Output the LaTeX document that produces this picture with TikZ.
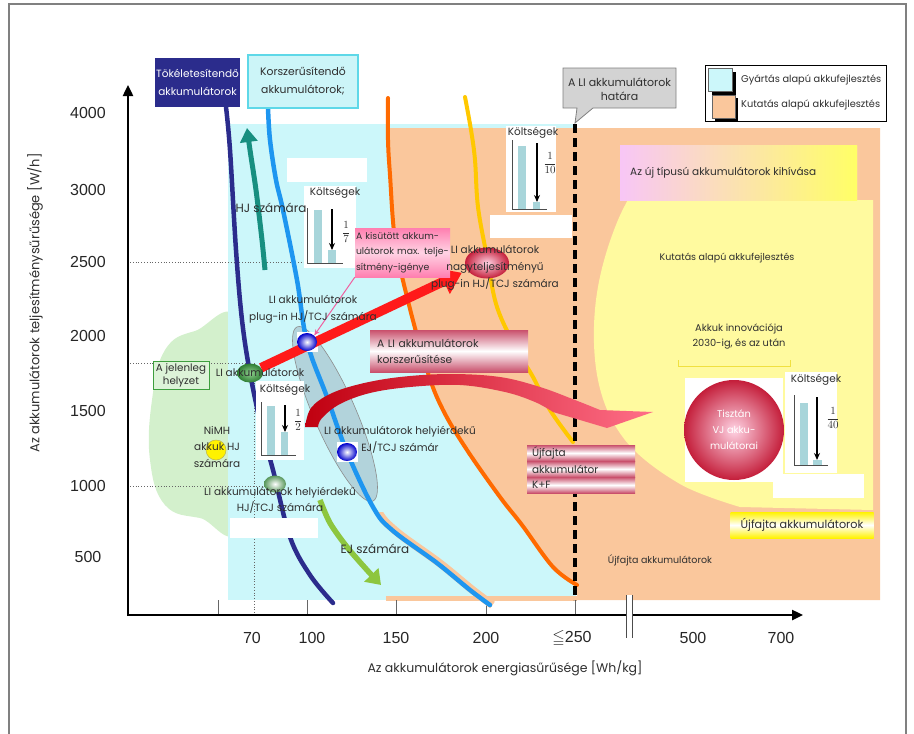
\documentclass[tikz,border=0pt]{standalone}
\usepackage{amssymb}
\usepackage{fontspec}
\setmainfont{Poppins}
\newfontfamily\arialf{Liberation Sans}
\usetikzlibrary{arrows.meta,shapes.geometric,shadings}
\definecolor{cyanbg}{HTML}{CCF7FA}
\definecolor{peach}{HTML}{FAC79C}
\definecolor{ylw}{HTML}{FFFA9F}
\definecolor{navy}{HTML}{2B2C8C}
\definecolor{bluec}{HTML}{1E96F0}
\definecolor{orangec}{HTML}{FF6A00}
\definecolor{goldc}{HTML}{FFC800}
\definecolor{tealc}{HTML}{178F80}
\definecolor{limec}{HTML}{8DC63F}
\definecolor{lgreen}{HTML}{D3F0CC}
\definecolor{barc}{HTML}{A8D5DA}
\definecolor{txt}{HTML}{2F2F2F}
\definecolor{crim}{HTML}{C41E3A}
\definecolor{pinkA}{HTML}{FF7FB0}
\definecolor{pinkB}{HTML}{FFD3E4}
\definecolor{rose}{HTML}{C9506C}
\definecolor{korfill}{HTML}{CCF5F8}
\definecolor{korline}{HTML}{5ED8E8}
\definecolor{jelfill}{HTML}{DDF3D8}
\definecolor{jelline}{HTML}{3E9E3E}
\definecolor{calfill}{HTML}{D3D3D3}
\definecolor{lilac}{HTML}{F8C6F6}
\definecolor{yelbox}{HTML}{FFFF66}
\definecolor{ujy}{HTML}{FFF200}
\definecolor{redA}{HTML}{FF1A1A}
\definecolor{swA}{HTML}{C00010}
\definecolor{swB}{HTML}{FFE4EA}
\definecolor{swC}{HTML}{FF6F88}
\definecolor{pinkl}{HTML}{F060A0}
\definecolor{ellg}{HTML}{9DB7C2}
\definecolor{greenD}{HTML}{2E7D32}
\definecolor{greenL}{HTML}{8FCF8F}
\definecolor{innovl}{HTML}{F0E040}
\begin{document}
\begin{tikzpicture}[x=1pt,y=-1pt,
  every node/.style={inner sep=0pt, text=txt},
  f8/.style={font=\fontsize{9.3}{15.5}\selectfont},
  f10/.style={font=\fontsize{10.5}{17}\selectfont},
  f12/.style={font=\fontsize{12}{14}\selectfont},
  axnum/.style={font=\arialf\fontsize{16}{18}\selectfont, text=black!85},
  curve/.style={line width=4.5pt, line cap=round},
  chartax/.style={draw=black!70, line width=1pt},
  chartarrow/.style={black, line width=1.4pt, -{Stealth[length=7pt,width=6pt]}},
  frac/.style={font=\fontsize{11}{13}\selectfont},
  dotl/.style={black!60, dotted, line width=0.8pt},
  tick/.style={black!60, line width=0.8pt},
  stripe/.style={top color=rose, bottom color=rose, middle color=white},
  ball/.style={ellipse, minimum width=20pt, minimum height=18pt, inner color=white, outer color=#1},
]
\useasboundingbox (0,0) rectangle (914,734);
% frame
\draw[black!50, line width=1.2pt] (9,740) -- (9,4) -- (906,4) -- (906,740);

% backgrounds
\fill[lgreen] plot[smooth cycle, tension=0.7] coordinates {(240,328)(195,331)(165,350)(152,400)(150,460)(165,505)(200,518)(240,520)};
\fill[cyanbg] (228,124) rectangle (576,600);
\fill[peach] plot[smooth, tension=0.6] coordinates {(388,128)(390,175)(395,240)(407,297)(427,370)(443,410)(467,450)(500,497)(522,525)(553,567)(577,585)} -- (577,600) -- (880,600) -- (880,128) -- cycle;
\fill[peach] (386,596) rectangle (577,601);
\fill[ylw] plot[smooth, tension=0.6] coordinates {(660,146)(618,220)(596,300)(598,380)(625,440)(680,484)(740,507)} -- (873,510) -- (873,200) -- (857,200) -- (857,146) -- cycle;

% challenge box
\node[minimum width=237pt, minimum height=55pt, left color=lilac, right color=yelbox] (kihivas) at (738.5,172.5) {};
\node[f10, anchor=west] (kihivasT) at (630,173) {Az új típusú akkumulátorok kihívása};
\node[font=\fontsize{9.5}{12}\selectfont] (kutatasT) at (727,258) {Kutatás alapú akkufejlesztés};
\draw[innovl, line width=1pt] (678,360) -- (678,366) -- (790,366) -- (790,360);
\node[align=center, font=\fontsize{9.8}{15}\selectfont] (innov) at (739,336) {Akkuk innovációja\\2030-ig, és az után};

% dotted guide lines and ticks
\draw[dotl] (130,262) -- (355,262);
\draw[dotl] (130,363) -- (250,363);
\draw[dotl] (130,486) -- (270,486);
\draw[dotl] (254,363) -- (254,615);
\foreach \tx in {218,307,396,486,575} \draw[tick] (\tx,600) -- (\tx,615);

% gray ellipse
\filldraw[fill=ellg, fill opacity=0.55, draw=black!45, line width=0.6pt, rotate around={-66.5:(335,414)}] (335,414) ellipse [x radius=95, y radius=21];

% curves
\begin{scope}
\clip (378,512) rectangle (500,610);
\draw[peach, line width=8pt, xshift=2.5pt] plot[smooth, tension=0.6] coordinates {(268,108)(270,140)(276,180)(283,210)(297,280)(307,342)(327,397)(347,452)(373,507)(392,530)(437,563)(470,590)(490,605)};
\end{scope}
\draw[navy, curve] plot[smooth, tension=0.6] coordinates {(226,107)(230,150)(236,250)(242,320)(250,373)(262,430)(273,470)(290,537)(310,575)(333,603)};
\draw[tealc, line width=5pt, -{Triangle[length=14pt,width=17pt]}] plot[smooth] coordinates {(265,270)(262,240)(256,190)(250,150)(247,128)};
\draw[bluec, curve] plot[smooth, tension=0.6] coordinates {(268,108)(270,140)(276,180)(283,210)(297,280)(307,342)(327,397)(347,452)(373,507)(392,530)(437,563)(470,590)(490,605)};
\draw[orangec, line width=4pt, line cap=round] plot[smooth, tension=0.6] coordinates {(388,98)(388,140)(390,175)(395,240)(407,297)(427,370)(443,410)(467,450)(500,497)(522,525)(553,567)(577,585)};
\draw[goldc, line width=4pt, line cap=round] plot[smooth, tension=0.6] coordinates {(465,97)(471,130)(475,160)(478,207)(487,257)(497,307)(517,350)(533,377)(550,410)(573,442)};
\draw[limec, line width=5.5pt, -{Triangle[length=14pt,width=19pt]}] plot[smooth] coordinates {(320,500)(330,523)(347,547)(367,570)(381,585)};

% white boxes
\fill[white] (287,158) rectangle (367,182);
\fill[white] (490,215) rectangle (572,238);
\fill[white] (230,518) rectangle (318,538);
\fill[white] (773,474) rectangle (864,498);
\fill[white] (685,378) rectangle (783,482);
\fill[white] (297,332) rectangle (318,352);
\fill[white] (337,442) rectangle (358,462);

% limit line
\coordinate (limtop) at (575,124);
\coordinate (limbot) at (575,600);
\draw[black, line width=3.5pt, dash pattern=on 9pt off 5pt] (limtop) -- (limbot);

% cost chart 1/7
\fill[white] (304,186) rectangle (356,268);
\node[f10] (k7) at (335,193) {Költségek};
\fill[barc] (314,210) rectangle (322,263);
\fill[barc] (328,250) rectangle (336,263);
\draw[chartax] (307,208) -- (307,263) -- (343,263);
\draw[chartarrow] (332,209) -- (332,250);
\node[frac] (f7) at (346,232) {$\displaystyle\frac{1}{7}$};

% cost chart 1/2
\fill[white] (256,381) rectangle (304,460);
\node[f10] (k2) at (285,390) {Költségek};
\fill[barc] (267,406) rectangle (275,455);
\fill[barc] (281,432) rectangle (288,455);
\draw[chartax] (261,402) -- (261,455) -- (296,455);
\draw[chartarrow] (285,405) -- (285,432);
\node[frac] (f2) at (298,420) {$\displaystyle\frac{1}{2}$};

% cost chart 1/10
\fill[white] (506,126) rectangle (556,212);
\node[f10] (k10) at (533,133) {Költségek};
\fill[barc] (518,146) rectangle (526,209);
\fill[barc] (533,202) rectangle (540,209);
\draw[chartax] (512,140) -- (512,209) -- (547,209);
\draw[chartarrow] (537,143) -- (537,202);
\node[frac] (f10n) at (550,163) {$\displaystyle\frac{1}{10}$};

% cost chart 1/40
\fill[white] (785,372) rectangle (837,473);
\node[f10] (k40) at (816,380) {Költségek};
\fill[barc] (800,403) rectangle (808,465);
\fill[barc] (813,460) rectangle (822,465);
\draw[chartax] (794,395) -- (794,465) -- (828,465);
\draw[chartarrow] (817,397) -- (817,460);
\node[frac] (f40) at (833,418) {$\displaystyle\frac{1}{40}$};

% swoosh
\shade[left color=swA, middle color=swB, right color=swC] plot[smooth, tension=0.6] coordinates {(305,427)(311,408)(330,394)(360,384)(400,377)(450,374)(500,377)(540,387)(575,400)(600,410)} -- (653,412) -- (607,428) -- (553,412) -- plot[smooth,tension=0.6] coordinates {(553,412)(535,402)(505,392)(460,385)(410,387)(370,393)(340,404)(322,418)(318,427)} -- cycle;

% balls
\node[ellipse, minimum width=26pt, minimum height=19pt, inner color=greenL, outer color=greenD] (liG) at (250,373) {};
\node[ellipse, minimum width=44pt, minimum height=31pt, inner color=pinkB, outer color=crim] (redball) at (487,263) {};
\draw[redA, line width=9.5pt, -{Triangle[length=20pt,width=27pt]}, shorten >=6pt] (liG) -- (redball.200);
\node[ball=blue!80!black] (blueA) at (307,342) {};
\node[ball=blue!80!black] (blueB) at (347,452) {};
\node[ellipse, minimum width=22pt, minimum height=17pt, inner color=white, outer color=greenD!80] (liG2) at (275,484) {};
\node[circle, minimum size=20pt, fill=ujy, draw=olive!60, line width=0.5pt] (nimhball) at (216,450) {};
\node[circle, minimum size=100pt, inner color=pinkB, outer color=crim, text=white, align=center, font=\fontsize{9.8}{16}\selectfont] (sphere) at (734,430) {Tisztán\\VJ akku-\\mulátorai};

% top label boxes
\node[fill=navy, minimum width=85pt, minimum height=49pt, text=white, align=center, font=\fontsize{10.5}{18}\selectfont] (tok) at (197.5,82.5) {Tökéletesítendő\\akkumulátorok};
\node[fill=korfill, draw=korline, line width=1.2pt, minimum width=110pt, minimum height=53pt, align=center, font=\fontsize{10.8}{18}\selectfont] (kor) at (303,81.5) {Korszerűsítendő\\akkumulátorok;};

% callout
\filldraw[fill=calfill, draw=black!50, line width=0.8pt] (563,68) -- (676,68) -- (676,108) -- (593,108) -- (575,123) -- (577,108) -- (563,108) -- cycle;
\node[align=center, font=\fontsize{11}{14}\selectfont] (callout) at (619.5,89) {A LI akkumulátorok\\határa};

% legend
\node[draw=black, line width=1pt, fill=white, minimum width=181pt, minimum height=56pt] (legend) at (796,93) {};
\fill[black] (712,72) rectangle (736,95);
\node[fill=cyanbg, draw=black!60, line width=0.4pt, minimum width=24pt, minimum height=23pt] (sw1) at (720.5,80) {};
\fill[black] (715,98) rectangle (738,121);
\node[fill=peach, draw=black!60, line width=0.4pt, minimum width=23pt, minimum height=23pt] (sw2) at (723.5,106.5) {};
\node[anchor=west, font=\fontsize{9.8}{10}\selectfont] (lg1) at (741,80) {Gyártás alapú akkufejlesztés};
\node[anchor=west, font=\fontsize{9.8}{10}\selectfont] (lg2) at (741,105) {Kutatás alapú akkufejlesztés};

% pink box
\node[minimum width=95pt, minimum height=49pt, top color=pinkA, bottom color=pinkA, middle color=pinkB, text width=93pt, align=left, f8] (kisutott) at (402.5,252.5) {A kisütött akkum-\\ulátorok max. telje-\\sítmény-igénye};
\draw[pinkl, line width=1pt, -{Stealth[length=6pt,width=5pt]}] (kisutott.south west) -- (blueA.north east);

% korszer box
\node[stripe, minimum width=158pt, minimum height=42pt, text width=144pt, align=left, font=\fontsize{10.7}{16}\selectfont] (korszer) at (449,351) {A LI akkumulátorok\\korszerűsítése};

% K+F stripes
\node[stripe, minimum width=108pt, minimum height=16pt, text width=98pt, align=left, f10] (kf1) at (581,453) {Újfajta};
\node[stripe, minimum width=108pt, minimum height=16pt, text width=98pt, align=left, f10] (kf2) at (581,469) {akkumulátor};
\node[stripe, minimum width=108pt, minimum height=16pt, text width=98pt, align=left, f10] (kf3) at (581,485) {K+F};

% jelenleg box
\node[draw=jelline, fill=jelfill, line width=1pt, minimum width=56pt, minimum height=28pt, align=center, font=\fontsize{10.3}{13}\selectfont] (jelen) at (181,375) {A jelenleg\\helyzet};

% yellow new-type box
\node[minimum width=143pt, minimum height=26pt, top color=ujy, bottom color=ujy, middle color=white, font=\fontsize{11.2}{13}\selectfont] (ujY) at (802,525) {Újfajta akkumulátorok};

% labels
\node[f12] (hjsz) at (271,208) {HJ számára};
\node[f10, align=center] (nagyt) at (495,268) {LI akkumulátorok\\nagyteljesítményű\\plug-in HJ/TCJ számára};
\node[f10, align=center] (lipl) at (313,309) {LI akkumulátorok\\plug-in HJ/TCJ számára};
\node[f10] (liT) at (260,372) {LI akkumulátorok};
\node[align=center, font=\fontsize{10.5}{16.5}\selectfont] (nimh) at (217,447) {NiMH\\akkuk HJ\\számára};
\node[f10, align=center] (liEJ) at (400,440) {LI akkumulátorok helyiérdekű\\EJ/TCJ számár};
\node[align=center, font=\fontsize{10.5}{16}\selectfont] (liHJ) at (280,500) {LI akkumulátorok helyiérdekű\\HJ/TCJ számára};
\node[f12] (ejsz) at (375,549) {EJ számára};
\node[font=\fontsize{9.5}{12}\selectfont] (ujT) at (660,560) {Újfajta akkumulátorok};

% axes
\draw[black, line width=2.4pt, -{Triangle[length=11pt,width=10pt]}] (128,616) -- (128,85);
\draw[black, line width=2.4pt, -{Triangle[length=11pt,width=10pt]}] (127,615) -- (803,615);
\fill[white] (626,595) rectangle (632,638);
\draw[black!70, line width=0.9pt] (626,595) -- (626,638) (632,595) -- (632,638);

\node[axnum] (y4000) at (88,113) {4000};
\node[axnum] (y3000) at (88,190) {3000};
\node[axnum] (y2500) at (88,262) {2500};
\node[axnum] (y2000) at (88,336) {2000};
\node[axnum] (y1500) at (88,411) {1500};
\node[axnum] (y1000) at (88,486) {1000};
\node[axnum] (y500) at (88,557) {500};
\node[axnum] (x70) at (252,638) {70};
\node[axnum] (x100) at (312,638) {100};
\node[axnum] (x150) at (396,638) {150};
\node[axnum] (x200) at (486,638) {200};
\node[axnum] (x250) at (572,638) {$\leqq$250};
\node[axnum] (x500) at (693,638) {500};
\node[axnum] (x700) at (781,638) {700};

\node[rotate=90, font=\fontsize{13}{15}\selectfont] (ytitle) at (35,303) {Az akkumulátorok teljesítménysűrűsége [W/h]};
\node[font=\fontsize{12.5}{15}\selectfont] (xtitle) at (505,668) {Az akkumulátorok energiasűrűsége [Wh/kg]};
\end{tikzpicture}
\end{document}
